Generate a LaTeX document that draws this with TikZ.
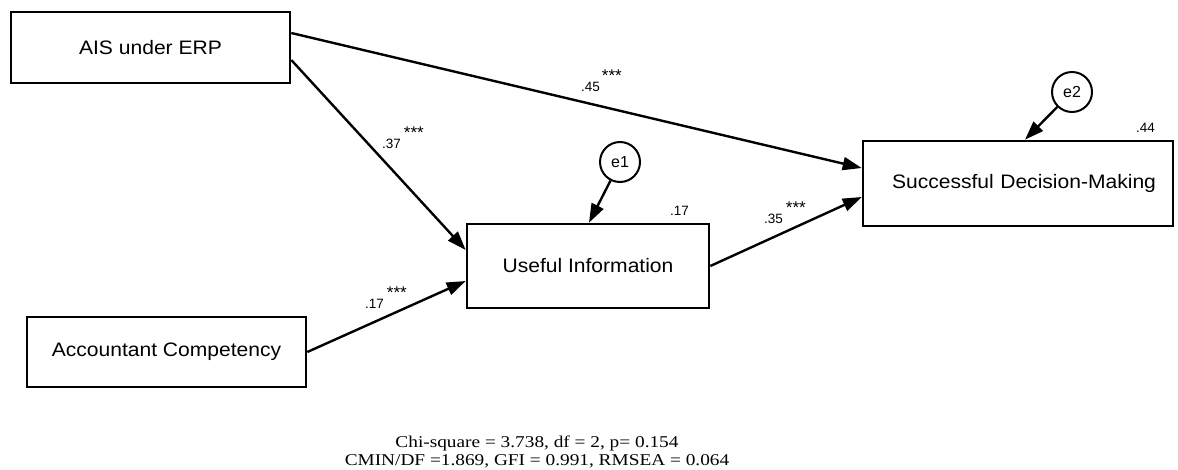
\documentclass[tikz,border=0pt]{standalone}
\usepackage{fontspec}
\usetikzlibrary{arrows.meta,calc}
\newfontfamily\boxfont[FakeStretch=1.08]{Liberation Sans}
\newfontfamily\numfont{Liberation Sans}
\newfontfamily\notefont[FakeStretch=1.17]{Liberation Serif}
\newcommand{\stars}{\raisebox{10pt}{\fontsize{17}{17}\selectfont ***}}
\begin{document}
\begin{tikzpicture}[x=1pt,y=-1pt,
  varbox/.style={draw, line width=2.6pt, rectangle, inner sep=0pt,
    font=\boxfont\fontsize{19.5}{21}\selectfont},
  errc/.style={draw, circle, line width=2pt, minimum size=40pt, inner sep=0pt,
    font=\numfont\fontsize{16}{16}\selectfont},
  link/.style={line width=2.4pt, -{Triangle[length=19pt,width=13pt]}},
  lbl/.style={anchor=base west, inner sep=0pt, font=\numfont\fontsize{13.5}{13.5}\selectfont},
  note/.style={align=center, inner sep=0pt,
    font=\notefont\fontsize{16.5}{17.5}\selectfont}]
\useasboundingbox (0,0) rectangle (1178,469);

% observed variables
\node[varbox, minimum width=279pt, minimum height=71pt] (ais) at (150.5,47.5) {AIS under ERP};
\node[varbox, minimum width=279pt, minimum height=70pt] (acc) at (166.5,352) {Accountant Competency};
\node[varbox, minimum width=242pt, minimum height=84pt] (ui) at (588,266) {Useful Information};
\node[varbox, minimum width=310pt, minimum height=85pt, text width=300pt, align=center] (sdm) at (1018,183.5) {\hspace*{12pt}Successful Decision-Making};

% error terms
\node[errc] (e1) at (620,162) {e1};
\node[errc] (e2) at (1072,92) {e2};

% paths
\draw[link] ([yshift=14.5pt]ais.east) -- ([yshift=15.5pt]sdm.west);
\draw[link] ([yshift=-12.5pt]ais.east) -- ([yshift=16pt]ui.west);
\draw[link] (acc.east) -- ([yshift=-15pt]ui.west);
\draw[link] (ui.east) -- ([yshift=-13.5pt]sdm.west);
\draw[link] (e1) -- ([xshift=1pt]ui.north);
\draw[link] (e2) -- ([xshift=7pt]sdm.north);

% coefficients
\node[lbl] (c45) at (581,91) {.45\hspace{2pt}\stars};
\node[lbl] (c37) at (382,148) {.37\hspace{3pt}\stars};
\node[lbl] (c17a) at (365,308) {.17\hspace{3pt}\stars};
\node[lbl] (c35) at (764,223) {.35\hspace{3pt}\stars};
\node[lbl] (r17) at (670,215) {.17};
\node[lbl] (r44) at (1136,132) {.44};

% fit indices
\node[note] (fit) at (537,452) {Chi-square = 3.738, df = 2, p= 0.154\\CMIN/DF =1.869, GFI = 0.991, RMSEA = 0.064};
\end{tikzpicture}
\end{document}
